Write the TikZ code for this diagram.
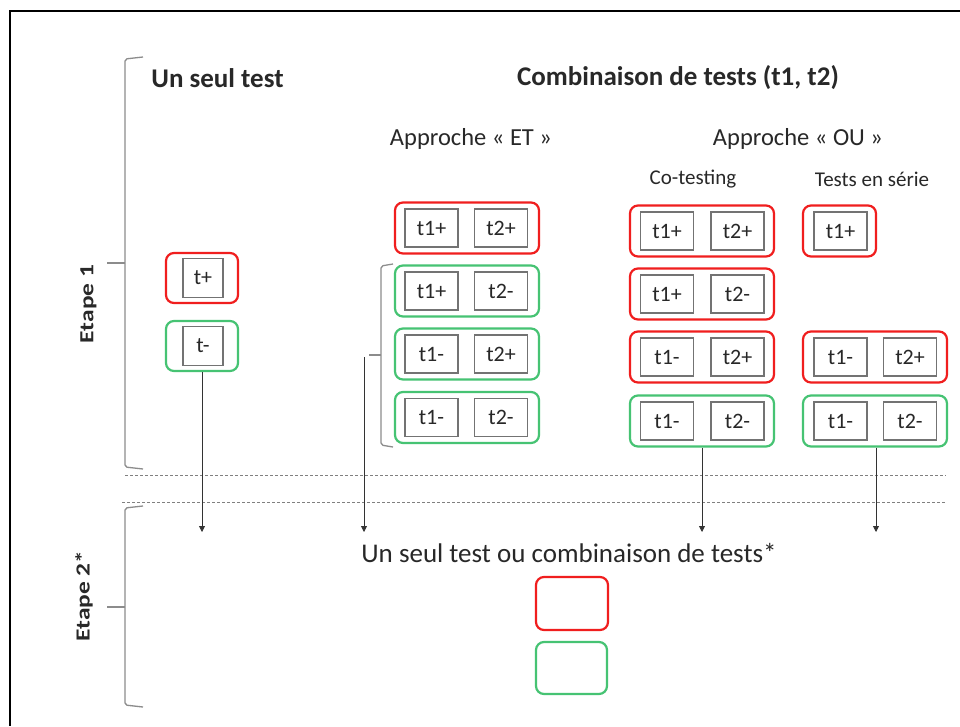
\documentclass[tikz,border=0pt]{standalone}
\usepackage{fontspec}
\usepackage{graphicx}
\setmainfont{Carlito}
\usetikzlibrary{arrows.meta}
\definecolor{boxred}{RGB}{240,30,30}
\definecolor{boxgreen}{RGB}{70,195,115}
\definecolor{bracegray}{RGB}{140,140,140}
\definecolor{txt}{RGB}{40,40,40}
\begin{document}
\begin{tikzpicture}[x=1pt,y=-1pt,
  redbox/.style={draw=boxred,line width=2.2pt,rounded corners=8pt,minimum height=51pt,inner sep=0pt},
  greenbox/.style={draw=boxgreen,line width=2.2pt,rounded corners=8pt,minimum height=51pt,inner sep=0pt},
  inbox/.style={draw=gray!90!black,line width=1.1pt,minimum width=53pt,minimum height=38pt,inner sep=0pt,font=\fontsize{22}{26}\selectfont,text=txt},
  wide/.style={minimum width=144pt},
  head/.style={font=\fontsize{27}{32}\selectfont\bfseries,text=txt},
  sub/.style={font=\fontsize{24.5}{29}\selectfont,text=txt},
  small/.style={font=\fontsize{21}{25}\selectfont,text=txt},
  etape/.style={rotate=90,font=\fontsize{20}{24}\selectfont\bfseries,text=txt},
  bracestyle/.style={draw=bracegray,line width=1.3pt,rounded corners=2pt},
  arr/.style={draw=black!80,line width=0.8pt,-{Triangle[length=6pt,width=6pt]}},
  sep/.style={draw=gray,line width=0.9pt,dash pattern=on 3pt off 2pt}]
\useasboundingbox (0,0) rectangle (960,726);
\fill[white] (0,0) rectangle (960,726);
% frame
\draw[line width=2pt] (960,11) -- (10,11) -- (10,726);
% braces
\draw[bracestyle] (143,57) -- (125,59) -- (125,467) -- (143,469);
\draw[bracestyle] (125,263) -- (107,263);
\draw[bracestyle] (143,506) -- (125,508) -- (125,705) -- (143,707);
\draw[bracestyle] (125,607) -- (107,607);
\node[etape] (e1) at (88.5,304) {\scalebox{1.27}[1]{Etape 1}};
\node[etape] (e2) at (84,596) {\scalebox{1.27}[1]{Etape 2*}};
% separators
\draw[sep] (125,475) -- (946,475);
\draw[sep] (122,502) -- (946,502);
% headings
\node[head] (h1) at (217.5,78) {Un seul test};
\node[head] (h2) at (678,78) {Combinaison de tests (t1, t2)};
\node[sub] (aet) at (471,139) {Approche « ET »};
\node[sub] (aou) at (798,139) {Approche « OU »};
\node[small] (cot) at (693,179) {Co-testing};
\node[small] (ser) at (872,179) {Tests en série};
% single test
\node[redbox,minimum width=72pt,minimum height=50pt] (s1) at (202,278) {};
\node[inbox,minimum width=40pt,minimum height=39pt] (s1a) at (203,278) {t+};
\node[greenbox,minimum width=72pt,minimum height=50pt] (s2) at (202,346) {};
\node[inbox,minimum width=40pt,minimum height=39pt] (s2a) at (203,346) {t-};
% ET column
\node[redbox,wide] (et1) at (467,228) {};
\node[inbox] (et1a) at (431.5,228) {t1+};
\node[inbox] (et1b) at (501,228) {t2+};
\node[greenbox,wide] (et2) at (467,291) {};
\node[inbox] (et2a) at (431.5,291) {t1+};
\node[inbox] (et2b) at (501,291) {t2-};
\node[greenbox,wide] (et3) at (467,354) {};
\node[inbox] (et3a) at (431.5,354) {t1-};
\node[inbox] (et3b) at (501,354) {t2+};
\node[greenbox,wide] (et4) at (467,417.5) {};
\node[inbox] (et4a) at (431.5,417.5) {t1-};
\node[inbox] (et4b) at (501,417.5) {t2-};
\draw[bracestyle] (393,264) -- (381,266) -- (381,445) -- (393,447);
\draw[bracestyle] (381,355) -- (369,355);
% Co-testing column
\node[redbox,wide] (co1) at (702,231) {};
\node[inbox] (co1a) at (667,231) {t1+};
\node[inbox] (co1b) at (737.5,231) {t2+};
\node[redbox,wide] (co2) at (702,294) {};
\node[inbox] (co2a) at (667,294) {t1+};
\node[inbox] (co2b) at (737.5,294) {t2-};
\node[redbox,wide] (co3) at (702,357) {};
\node[inbox] (co3a) at (667,357) {t1-};
\node[inbox] (co3b) at (737.5,357) {t2+};
\node[greenbox,wide] (co4) at (702,421) {};
\node[inbox] (co4a) at (667,421) {t1-};
\node[inbox] (co4b) at (737.5,421) {t2-};
% Series column
\node[redbox,minimum width=73pt] (se1) at (839.5,231) {};
\node[inbox] (se1a) at (840.5,231) {t1+};
\node[redbox,wide] (se3) at (875,357) {};
\node[inbox] (se3a) at (840.5,357) {t1-};
\node[inbox] (se3b) at (910,357) {t2+};
\node[greenbox,wide] (se4) at (875,421) {};
\node[inbox] (se4a) at (840.5,421) {t1-};
\node[inbox] (se4b) at (910,421) {t2-};
% arrow ends
\coordinate (etstart) at (364,357);
\coordinate (t1) at (202,532);
\coordinate (t2) at (364,532);
\coordinate (t3) at (702,532);
\coordinate (t4) at (876,532);
\draw[arr] (s2.south) -- (t1);
\draw[arr] (etstart) -- (t2);
\draw[arr] (co4.south) -- (t3);
\draw[arr] (se4.south -| t4) -- (t4);
% step 2
\node[font=\fontsize{27}{32}\selectfont,text=txt] (bot) at (569,553) {Un seul test ou combinaison de tests*};
\node[redbox,minimum width=72pt,minimum height=53pt] (b1) at (572,603.5) {};
\node[greenbox,minimum width=71pt,minimum height=52pt] (b2) at (571.5,668) {};
\end{tikzpicture}
\end{document}
